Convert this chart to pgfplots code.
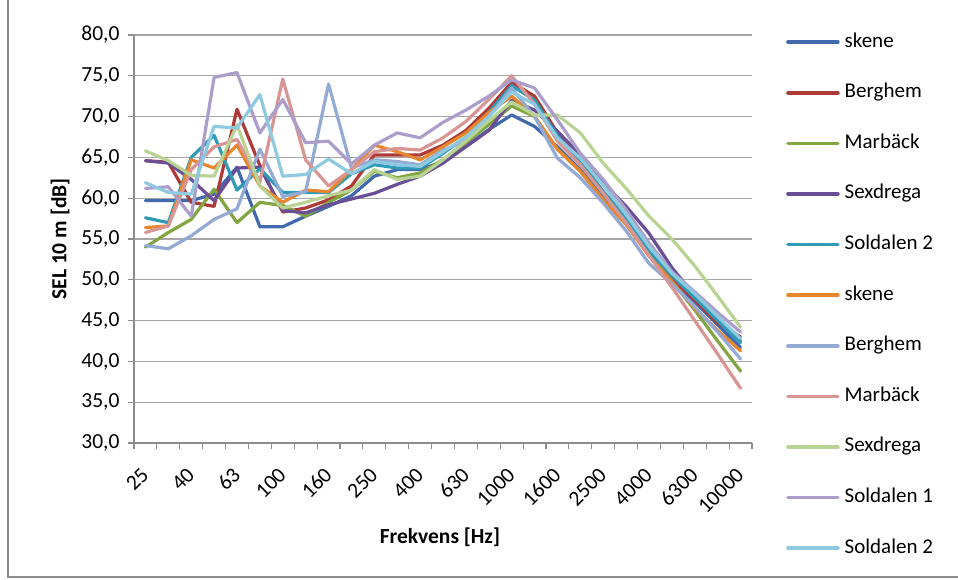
\documentclass[border=0pt]{standalone}
\usepackage{pgfplots}
\usepackage{pgfplotstable}
\pgfplotsset{compat=1.18}
\usepackage{fontspec}
\setmainfont{Carlito}
\definecolor{c1}{HTML}{4069AE}
\definecolor{c2}{HTML}{AE3A38}
\definecolor{c3}{HTML}{82A541}
\definecolor{c4}{HTML}{6B4F96}
\definecolor{c5}{HTML}{2F9BB7}
\definecolor{c6}{HTML}{E8862E}
\definecolor{c7}{HTML}{93ABD4}
\definecolor{c8}{HTML}{D99593}
\definecolor{c9}{HTML}{B9D392}
\definecolor{c10}{HTML}{AC9ECA}
\definecolor{c11}{HTML}{8DCAE0}
\definecolor{gridc}{HTML}{A6A6A6}
\definecolor{axc}{HTML}{8C8C8C}
\pgfplotstableread{
x  s1   s2   s3   s4   s5   s6   s7   s8   s9   s10  s11
0  59.7 64.6 54.0 64.6 57.6 56.4 54.2 55.8 65.8 61.2 61.9
1  59.7 64.4 55.8 64.3 57.0 56.6 53.8 56.6 64.6 61.4 60.7
2  59.7 59.5 57.4 62.3 65.0 64.7 55.4 63.5 62.8 57.8 60.5
3  60.5 59.0 61.1 59.7 67.7 63.7 57.4 66.3 62.7 74.8 68.8
4  63.8 70.9 57.0 63.7 61.0 66.5 58.7 67.2 69.0 75.4 68.6
5  56.5 64.0 59.5 63.8 63.6 61.5 66.0 62.0 61.5 68.0 72.7
6  56.5 58.3 59.1 58.5 60.7 59.5 60.2 74.6 58.8 72.1 62.7
7  57.8 58.8 57.8 58.2 60.7 61.0 60.8 64.7 59.5 66.8 62.9
8  59.0 59.8 59.5 59.2 60.7 60.8 74.0 61.5 60.3 67.0 64.8
9  60.3 61.5 61.0 59.9 63.0 63.5 63.7 63.5 61.0 64.2 63.0
10 62.7 65.3 63.3 60.6 64.1 66.5 64.7 65.7 63.5 66.5 64.5
11 63.5 65.3 62.5 61.7 63.7 65.7 64.5 66.1 62.3 68.0 64.1
12 63.5 65.3 63.1 62.7 63.7 64.7 64.1 65.9 62.7 67.4 63.9
13 64.5 66.5 64.7 64.3 65.5 66.3 65.9 67.4 64.7 69.3 65.7
14 66.4 68.3 66.8 66.3 67.5 68.0 67.0 69.4 67.0 70.8 67.5
15 68.4 71.0 69.0 68.3 70.5 70.5 70.0 72.1 69.5 72.5 70.0
16 70.2 74.2 71.3 72.0 73.8 72.5 73.5 75.0 71.8 74.5 73.0
17 68.8 72.5 70.0 70.8 72.0 70.0 70.0 71.5 70.2 73.5 71.5
18 66.3 68.0 66.0 68.2 67.6 66.0 64.9 67.0 70.2 69.6 67.4
19 63.5 64.5 63.3 65.3 64.5 63.3 62.5 64.1 68.0 65.5 64.9
20 60.2 60.8 59.8 61.9 60.8 59.8 59.4 60.6 64.3 62.3 61.6
21 57.2 57.6 56.8 59.0 57.6 56.8 56.0 57.0 61.2 58.6 58.0
22 53.3 53.3 53.0 55.7 53.5 52.9 52.0 53.0 57.8 54.5 54.1
23 50.0 50.2 49.8 51.5 50.5 49.8 49.5 49.1 55.0 51.0 50.8
24 47.3 47.5 46.3 48.0 47.8 46.5 46.7 45.0 51.7 48.5 48.3
25 44.5 44.7 42.5 45.2 45.0 43.8 43.6 40.9 48.0 46.0 45.5
26 41.7 43.0 38.8 42.5 42.3 41.3 40.3 36.7 44.2 43.6 42.8
}\data
\begin{document}
\begin{tikzpicture}[x=1pt,y=1pt]
\path[use as bounding box] (0,0) rectangle (958,579);
\draw[axc, line width=1.2pt] (8,579) -- (8,2) -- (958,2);
\begin{axis}[
  at={(134pt,136pt)}, anchor=south west,
  width=618pt, height=408pt, scale only axis,
  font=\fontsize{21.5}{25}\selectfont,
  xmin=-0.5, xmax=26.5, ymin=30, ymax=80,
  axis lines*=left,
  axis line style={axc, line width=1.2pt},
  ytick={30,35,...,80},
  xtick={0,2,...,26},
  xticklabels={25,40,63,100,160,250,400,630,1000,1600,2500,4000,6300,10000},
  minor xtick={-0.5,0.5,...,26.5},
  major x tick style={draw=none},
  minor x tick style={axc, line width=1.2pt},
  y tick style={axc, line width=1.2pt},
  tick align=outside,
  major tick length=6pt, minor tick length=6pt,
  ymajorgrids, grid style={gridc, line width=1.2pt},
  /pgf/number format/assume math mode=true,
  y tick label style={/pgf/number format/.cd, fixed, fixed zerofill, precision=1, use comma, /tikz/.cd, xshift=-5pt},
  x tick label style={xshift=2pt, yshift=-20pt, rotate=45, anchor=east},
  every axis y label/.style={at={(axis description cs:-0.1197,0.5)}, rotate=90, anchor=center, font=\fontsize{21.5}{25}\selectfont\bfseries},
  every axis x label/.style={at={(axis description cs:0.495,-0.2304)}, anchor=center, font=\fontsize{21.5}{25}\selectfont\bfseries},
  ylabel={SEL 10 m [dB]},
  xlabel={Frekvens [Hz]},
  legend style={at={(axis description cs:1.055,1.0074)}, anchor=north west, draw=none, fill=none,
    inner sep=0pt, row sep=30.6pt, column sep=5pt,
    nodes={inner sep=0pt, text height=15pt, text depth=5pt, anchor=west},
    font=\fontsize{21}{25}\selectfont},
  legend cell align=left,
  legend image code/.code={\draw[#1, line width=3.5pt, line cap=round] (0pt,0pt) -- (50pt,0pt);},
  every axis plot/.append style={line width=3.2pt, line join=round, line cap=round},
]
\addplot[c1]  table[x=x, y=s1]  {\data};
\addplot[c2]  table[x=x, y=s2]  {\data};
\addplot[c3]  table[x=x, y=s3]  {\data};
\addplot[c4]  table[x=x, y=s4]  {\data};
\addplot[c5]  table[x=x, y=s5]  {\data};
\addplot[c6]  table[x=x, y=s6]  {\data};
\addplot[c7]  table[x=x, y=s7]  {\data};
\addplot[c8]  table[x=x, y=s8]  {\data};
\addplot[c9]  table[x=x, y=s9]  {\data};
\addplot[c10] table[x=x, y=s10] {\data};
\addplot[c11] table[x=x, y=s11] {\data};
\legend{skene,Berghem,Marbäck,Sexdrega,Soldalen 2,skene,Berghem,Marbäck,Sexdrega,Soldalen 1,Soldalen 2}
\end{axis}
\end{tikzpicture}
\end{document}
